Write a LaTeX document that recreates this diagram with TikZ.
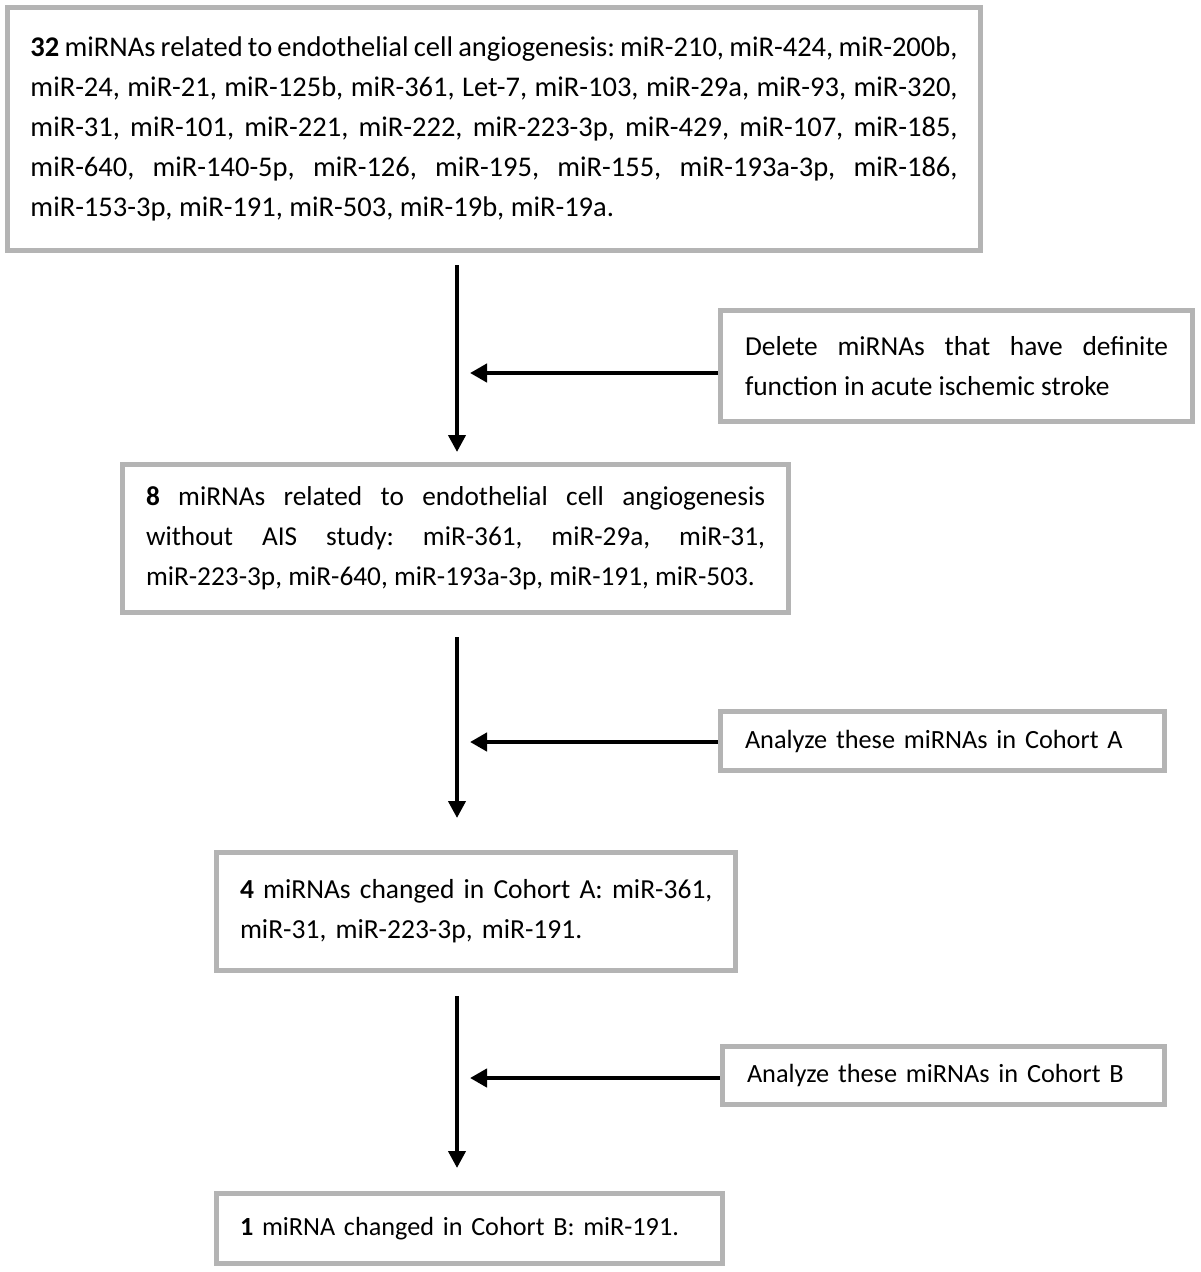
\documentclass[tikz,border=0pt]{standalone}
\usepackage{fontspec}
\setmainfont{Carlito}
\usetikzlibrary{arrows.meta}
\definecolor{boxgray}{HTML}{B4B4B4}
\newcommand{\fsz}[1]{\fontsize{#1}{40}\selectfont\frenchspacing\hyphenpenalty=10000\exhyphenpenalty=10000 }
\begin{document}
\begin{tikzpicture}[x=1pt,y=-1pt,
  gbox/.style={draw=boxgray, line width=5pt, fill=white, inner ysep=0pt},
  jtext/.style={align=justify},
  ltext/.style={align=left},
  varrow/.style={line width=4pt, -{Triangle[width=17pt,length=17pt]}},
  harrow/.style={line width=4.5pt, -{Triangle[width=18pt,length=17pt]}}
]
\useasboundingbox (0,0) rectangle (1200,1272);
\fill[white] (0,0) rectangle (1200,1272);
\coordinate (axis) at (457,0);

\node[gbox, jtext, font=\fsz{28.5}, text width=927pt, inner xsep=23pt, minimum height=243pt] (b1) at (494,129)
{\textbf{32} miRNAs related to endothelial cell angiogenesis: miR-210, miR-424, miR-200b,\linebreak
miR-24, miR-21, miR-125b, miR-361, Let-7, miR-103, miR-29a, miR-93, miR-320,\linebreak
miR-31, miR-101, miR-221, miR-222, miR-223-3p, miR-429, miR-107, miR-185,\linebreak
miR-640, miR-140-5p, miR-126, miR-195, miR-155, miR-193a-3p, miR-186,\linebreak
miR-153-3p, miR-191, miR-503, miR-19b, miR-19a.};

\node[gbox, jtext, font=\fsz{27.4}, text width=423pt, inner xsep=24.5pt, minimum height=111pt] (del) at (956.5,366)
{Delete miRNAs that have definite\linebreak
function in acute ischemic stroke};

\node[gbox, jtext, font=\fsz{27.3}, text width=619pt, inner xsep=23.5pt, minimum height=148pt] (b2) at (455.5,538.5)
{\textbf{8} miRNAs related to endothelial cell angiogenesis\linebreak
without AIS study: miR-361, miR-29a, miR-31,\linebreak
miR-223-3p, miR-640, miR-193a-3p, miR-191, miR-503.};

\node[gbox, ltext, font=\fsz{26.3}, text width=395pt, inner xsep=24.5pt, minimum height=59pt] (ca) at (942.5,741)
{\mbox{Analyze these miRNAs in Cohort A}};

\node[gbox, ltext, font=\fsz{27.5}, text width=472pt, inner xsep=23.5pt, minimum height=118pt] (b3) at (476,911.5)
{\mbox{\textbf{4} miRNAs changed in Cohort A: miR-361,}\\
\mbox{miR-31, miR-223-3p, miR-191.}};

\node[gbox, ltext, font=\fsz{26.3}, text width=393pt, inner xsep=24.5pt, minimum height=58pt] (cb) at (943.5,1075.5)
{\mbox{Analyze these miRNAs in Cohort B}};

\node[gbox, ltext, font=\fsz{26.2}, text width=459pt, inner xsep=23.5pt, minimum height=70pt] (b4) at (469.5,1228.5)
{\mbox{\textbf{1} miRNA changed in Cohort B: miR-191.}};

\draw[varrow, shorten <=12pt, shorten >=10pt] (b1.south -| axis) -- (b2.north -| axis);
\draw[varrow, shorten <=22pt, shorten >=32pt] (b2.south -| axis) -- (b3.north -| axis);
\draw[varrow, shorten <=23pt, shorten >=23pt] (b3.south -| axis) -- (b4.north -| axis);

\draw[harrow, shorten >=13pt] ([yshift=-7pt]del.west) -- ([yshift=-7pt]del.west -| axis);
\draw[harrow, shorten >=13pt] ([yshift=-1pt]ca.west) -- ([yshift=-1pt]ca.west -| axis);
\draw[harrow, shorten >=13pt] ([yshift=-2.5pt]cb.west) -- ([yshift=-2.5pt]cb.west -| axis);
\end{tikzpicture}
\end{document}
